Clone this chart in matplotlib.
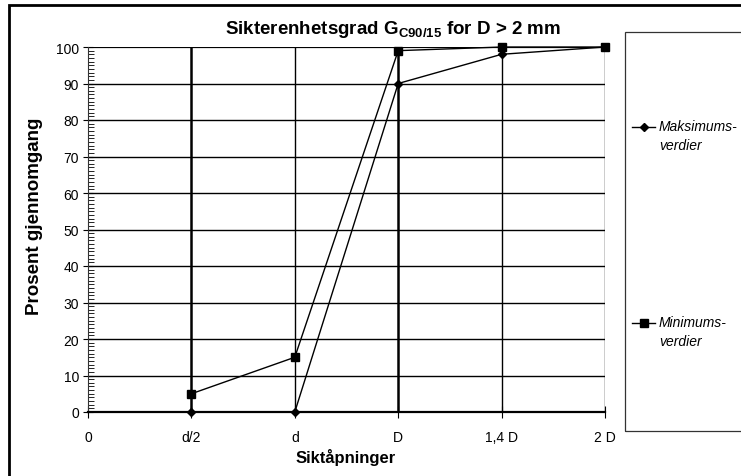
import matplotlib
matplotlib.use("Agg")
import matplotlib.pyplot as plt
from matplotlib.lines import Line2D
from matplotlib.patches import Rectangle
from matplotlib.ticker import MultipleLocator

plt.rcParams['font.family'] = ['Liberation Sans', 'DejaVu Sans']
plt.rcParams['mathtext.fontset'] = 'custom'
plt.rcParams['mathtext.rm'] = 'Liberation Sans'
plt.rcParams['mathtext.bf'] = 'Liberation Sans:bold'

categories = ["0", "d/2", "d", "D", "1,4 D", "2 D"]
maks_values = [0, 0, 90, 98, 100]
min_values = [5, 15, 99, 100, 100]
series_labels = ["Maksimums-\nverdier", "Minimums-\nverdier"]

W, H = 741, 477
fig = plt.figure(figsize=(W / 100, H / 100), dpi=100)

def fx(px):
    return px / W

def fy(py):
    return 1 - py / H

ax = fig.add_axes([fx(88), fy(413), fx(605) - fx(88), fy(48) - fy(413)])
x = list(range(len(categories)))
xs = x[1:]

ax.set_xlim(0, len(categories) - 1)
ax.set_ylim(0, 100)

# grid lines
for yv in range(10, 101, 10):
    ax.axhline(yv, color='black', lw=1.0 if yv < 100 else 1.6, zorder=1)
for i, xv in enumerate(x[1:], start=1):
    lw = 1.8 if categories[i] in ("d/2", "D") else 1.0
    ax.axvline(xv, color='black', lw=lw, zorder=1)

ax.plot(xs, maks_values, color='black', lw=1.0, marker='D', markersize=4, zorder=3, clip_on=False)
ax.plot(xs, min_values, color='black', lw=1.0, marker='s', markersize=6, zorder=3, clip_on=False)

for s in ['top', 'right']:
    ax.spines[s].set_visible(False)
ax.spines['left'].set_linewidth(0.8)
ax.spines['bottom'].set_linewidth(1.6)
ax.spines['left'].set_color('#333333')

ax.set_xticks(x)
ax.set_xticklabels(categories, fontsize=10)
ax.yaxis.set_major_locator(MultipleLocator(10))
ax.yaxis.set_minor_locator(MultipleLocator(1))
ax.tick_params(axis='y', which='major', direction='inout', length=7, width=0.8, labelsize=10, pad=3)
ax.tick_params(axis='y', which='minor', direction='in', length=4, width=0.6)
ax.tick_params(axis='x', which='major', direction='inout', length=8, width=0.8, pad=9)

ax.set_ylabel("Prosent gjennomgang", fontsize=13.5, fontweight='bold', va='center')
ax.yaxis.set_label_coords((35 - 88) / 517, 0.54)
ax.set_xlabel("Siktåpninger", fontsize=12, fontweight='bold', va='center')
ax.xaxis.set_label_coords(0.499, (413 - 458) / 365)

fig.text(fx(393), fy(30), r"Sikterenhetsgrad G$_{\mathbf{C90/15}}$ for D > 2 mm",
         fontsize=13.5, fontweight='bold', ha='center', va='center')

# figure border (left and top visible)
fig.patches.append(Rectangle((fx(9), fy(490)), 1.2, fy(6) - fy(490), transform=fig.transFigure,
                             fill=False, edgecolor='black', lw=2.0))

# legend box
fig.patches.append(Rectangle((fx(625), fy(432)), 1.2, fy(33) - fy(432), transform=fig.transFigure,
                             fill=False, edgecolor='#333333', lw=0.9))
legend_y = [128, 324]
markers = ['D', 's']
msizes = [4, 6]
for lbl, ly, mk, ms in zip(series_labels, legend_y, markers, msizes):
    fig.lines.append(Line2D([fx(632), fx(655)], [fy(ly), fy(ly)], transform=fig.transFigure,
                            color='black', lw=1.0))
    fig.lines.append(Line2D([fx(643.5)], [fy(ly)], transform=fig.transFigure,
                            color='black', marker=mk, markersize=ms))
    fig.text(fx(659), fy(ly - 8), lbl, fontsize=10, style='italic', ha='left', va='top',
             linespacing=1.45)

fig.savefig("out.png", dpi=100)
